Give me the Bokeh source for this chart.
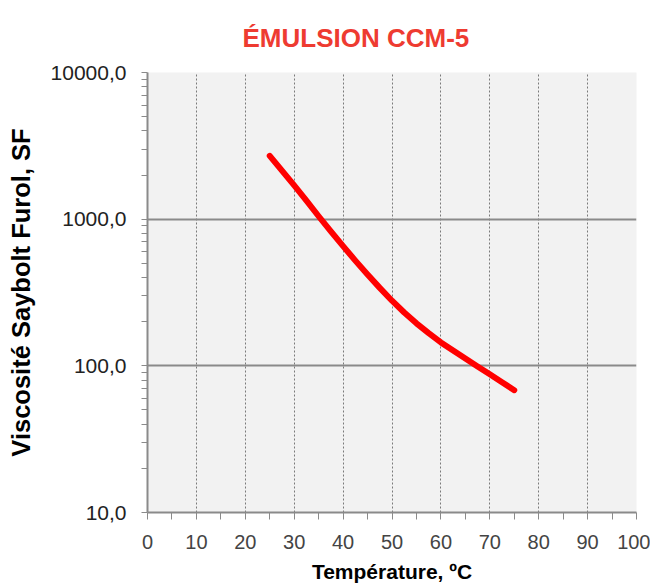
from bokeh.plotting import figure
from bokeh.models import FixedTicker
from bokeh.embed import file_html
from bokeh.resources import INLINE

# Data
title_text = "ÉMULSION CCM-5"
temperature = [25, 27.5, 30, 32.5, 35, 37.5, 40, 42.5, 45, 47.5, 50,
               52.5, 55, 57.5, 60, 62.5, 65, 67.5, 70, 72.5, 75]
viscosity = [2700, 2140, 1700, 1340, 1047, 824, 655, 522, 420, 340, 278,
             231, 195, 167, 144.5, 127, 112, 99.1, 87.5, 77.3, 68.2]

x_ticks = [0, 10, 20, 30, 40, 50, 60, 70, 80, 90, 100]
x_minor = [5, 15, 25, 35, 45, 55, 65, 75, 85, 95]
y_ticks = [10, 100, 1000, 10000]
y_tick_labels = ["10,0", "100,0", "1000,0", "10000,0"]
y_minor = [m * d for d in (10, 100, 1000) for m in range(2, 10)]

FONT = "Liberation Sans"

p = figure(width=650, height=587, y_axis_type="log",
           x_range=(0, 100), y_range=(10, 10000),
           output_backend="svg", toolbar_location=None,
           min_border_left=147, min_border_right=14,
           min_border_top=72, min_border_bottom=75,
           background_fill_color="#f2f2f2", border_fill_color="white")

p.title.text = title_text
p.title.text_font = FONT
p.title.text_font_size = "26px"
p.title.text_font_style = "bold"
p.title.text_color = "#ee3b31"
p.title.align = "left"
p.title.offset = 95
p.title.standoff = 40

p.outline_line_color = None

# X axis
xa = p.xaxis[0]
xa.ticker = FixedTicker(ticks=x_ticks, minor_ticks=x_minor)
xa.axis_label = "Température, ºC"
xa.axis_label_text_font = FONT
xa.axis_label_text_font_size = "21px"
xa.axis_label_text_font_style = "bold"
xa.axis_label_text_color = "black"
xa.axis_label_standoff = 8
xa.major_label_text_font = FONT
xa.major_label_text_font_size = "20px"
xa.major_label_text_color = "#444444"
xa.major_label_standoff = 15
xa.axis_line_color = "#8a8a8a"
xa.axis_line_width = 2
xa.major_tick_line_color = "#8a8a8a"
xa.minor_tick_line_color = "#8a8a8a"
xa.major_tick_in = 0
xa.major_tick_out = 7
xa.minor_tick_in = 0
xa.minor_tick_out = 7

# Y axis
ya = p.yaxis[0]
ya.ticker = FixedTicker(ticks=y_ticks, minor_ticks=y_minor)
ya.major_label_overrides = {t: l for t, l in zip(y_ticks, y_tick_labels)}
ya.axis_label = "Viscosité Saybolt Furol, SF"
ya.axis_label_text_font = FONT
ya.axis_label_text_font_size = "25.5px"
ya.axis_label_text_font_style = "bold"
ya.axis_label_text_color = "black"
ya.axis_label_standoff = 13
ya.major_label_text_font = FONT
ya.major_label_text_font_size = "21px"
ya.major_label_text_color = "#222222"
ya.major_label_standoff = 15
ya.axis_line_color = "#8a8a8a"
ya.axis_line_width = 2
ya.major_tick_line_color = "#8a8a8a"
ya.minor_tick_line_color = "#8a8a8a"
ya.major_tick_in = 0
ya.major_tick_out = 6
ya.minor_tick_in = 0
ya.minor_tick_out = 6

# Grids
p.xgrid.ticker = FixedTicker(ticks=x_ticks[1:])
p.xgrid.grid_line_color = "#7a7a7a"
p.xgrid.grid_line_dash = "2 2"
p.xgrid.grid_line_width = 1

p.ygrid.ticker = FixedTicker(ticks=y_ticks[1:])
p.ygrid.grid_line_color = "#8a8a8a"
p.ygrid.grid_line_width = 2

p.line(temperature, viscosity, line_width=6, line_color="#ff0000",
       line_cap="round", line_join="round")

open("out.html", "w").write(file_html(p, INLINE))
